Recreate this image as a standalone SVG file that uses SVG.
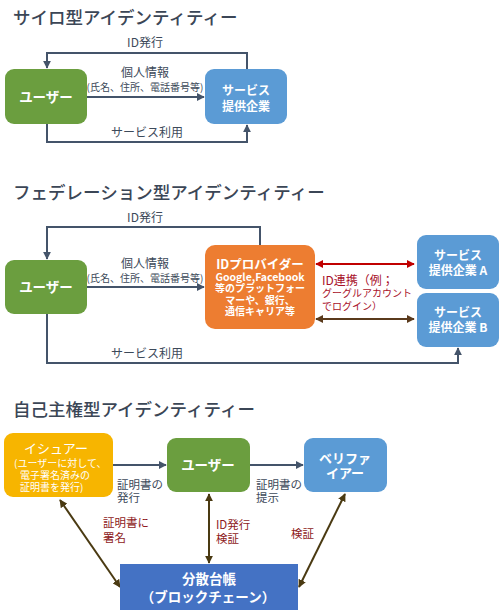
<svg xmlns="http://www.w3.org/2000/svg" width="500" height="612" viewBox="0 0 500 612">
<defs>
<style>
text{font-family:"Noto Sans CJK JP","Noto Sans",sans-serif}
.title{font-size:17.5px;font-weight:500;fill:#3b4656}
.lbl{font-size:12px;fill:#3d4a5a}
.lb2{font-size:11.5px;fill:#3d4a5a}
.sm{font-size:10px;fill:#3d4a5a}
.red{font-size:11.5px;fill:#8e1a22}
.bx{fill:#fff;font-weight:bold;text-anchor:middle}
.ln{fill:none;stroke:#44546a;stroke-width:2}
.c{text-anchor:middle}
</style>
<marker id="ah" viewBox="0 0 10 10" refX="9" refY="5" markerWidth="8" markerHeight="8" markerUnits="userSpaceOnUse" orient="auto"><path d="M0,0 L10,5 L0,10 z" fill="#44546a"/></marker>
<marker id="ahr" viewBox="0 0 10 10" refX="9" refY="5" markerWidth="8" markerHeight="8" markerUnits="userSpaceOnUse" orient="auto-start-reverse"><path d="M0,0 L10,5 L0,10 z" fill="#c00000"/></marker>
<marker id="ahb" viewBox="0 0 10 10" refX="9" refY="5" markerWidth="8" markerHeight="8" markerUnits="userSpaceOnUse" orient="auto-start-reverse"><path d="M0,0 L10,5 L0,10 z" fill="#5a3a1c"/></marker>
<marker id="aho" viewBox="0 0 10 10" refX="9" refY="5" markerWidth="8" markerHeight="8" markerUnits="userSpaceOnUse" orient="auto-start-reverse"><path d="M0,0 L10,5 L0,10 z" fill="#4a3a12"/></marker>
</defs>
<rect width="500" height="612" fill="#fff"/>

<text class="title" x="13" y="23.5">サイロ型アイデンティティー</text>
<text class="title" x="13" y="199">フェデレーション型アイデンティティー</text>
<text class="title" x="13" y="416">自己主権型アイデンティティー</text>

<g id="connectors">
<path class="ln" d="M247,70 V53 H47 V68" marker-end="url(#ah)"/>
<path class="ln" d="M87,97 H204" marker-end="url(#ah)"/>
<path class="ln" d="M47,124 V142 H247 V125" marker-end="url(#ah)"/>
<path class="ln" d="M260,245 V227 H47 V259" marker-end="url(#ah)"/>
<path class="ln" d="M87,287 H204" marker-end="url(#ah)"/>
<path class="ln" d="M47,314 V363 H458 V348" marker-end="url(#ah)"/>
<path d="M316,264 H414" fill="none" stroke="#c00000" stroke-width="2" marker-start="url(#ahr)" marker-end="url(#ahr)"/>
<path d="M316,319 H414" fill="none" stroke="#5a3a1c" stroke-width="2" marker-start="url(#ahb)" marker-end="url(#ahb)"/>
<path class="ln" d="M113,465 H166" marker-end="url(#ah)"/>
<path class="ln" d="M250,465 H303" marker-end="url(#ah)"/>
<path d="M60,500 L120,587" fill="none" stroke="#4a3a12" stroke-width="2" marker-start="url(#aho)" marker-end="url(#aho)"/>
<path d="M209,494 V563" fill="none" stroke="#4a3a12" stroke-width="2" marker-start="url(#aho)" marker-end="url(#aho)"/>
<path d="M345,494 L299,587" fill="none" stroke="#4a3a12" stroke-width="2" marker-start="url(#aho)" marker-end="url(#aho)"/>
</g>

<g id="labels">
<text class="lbl c" x="145" y="46.5">ID発行</text>
<text class="lbl c" x="145" y="77">個人情報</text>
<text class="sm c" x="145" y="90.5">(氏名、住所、電話番号等)</text>
<text class="lbl c" x="147" y="136.5">サービス利用</text>
<text class="lbl c" x="145" y="221.5">ID発行</text>
<text class="lbl c" x="145" y="268">個人情報</text>
<text class="sm c" x="145" y="281.5">(氏名、住所、電話番号等)</text>
<text class="lbl c" x="147" y="357.5">サービス利用</text>
<text x="322" y="284.5" style="font-size:12px;fill:#a8102a">ID連携（例；</text>
<text x="322" y="297" style="font-size:10px;fill:#a8102a">グーグルアカウント</text>
<text x="322" y="309.5" style="font-size:10px;fill:#a8102a">でログイン）</text>
<text class="lb2" x="117" y="489">証明書の</text>
<text class="lb2" x="117" y="502">発行</text>
<text class="lb2" x="256" y="489">証明書の</text>
<text class="lb2" x="256" y="502">提示</text>
<text class="red" x="103" y="527">証明書に</text>
<text class="red" x="103" y="542">署名</text>
<text class="red" x="216" y="529">ID発行</text>
<text class="red" x="216" y="543">検証</text>
<text class="red" x="291" y="537.5">検証</text>
</g>

<g id="silo-user">
<rect x="5" y="69" width="82" height="55" rx="9" fill="#6b9e3f"/>
<text class="bx" x="46" y="102" style="font-size:13.5px">ユーザー</text>
</g>
<g id="silo-service">
<rect x="205" y="69" width="82" height="55" rx="9" fill="#5b9bd5"/>
<text class="bx" x="246" y="94.5" style="font-size:12px">サービス</text>
<text class="bx" x="246" y="110.5" style="font-size:12px">提供企業</text>
</g>

<g id="fed-user">
<rect x="5" y="260" width="82" height="54" rx="9" fill="#6b9e3f"/>
<text class="bx" x="46" y="292" style="font-size:13.5px">ユーザー</text>
</g>
<g id="fed-idp">
<rect x="205" y="245" width="110" height="84" rx="10" fill="#ed7d31"/>
<text class="bx" x="260" y="268.5" style="font-size:12.5px">IDプロバイダー</text>
<text class="bx" x="260" y="280.5" style="font-size:10.5px">Google,Facebook</text>
<text class="bx" x="260" y="292" style="font-size:10px">等のプラットフォー</text>
<text class="bx" x="260" y="303.5" style="font-size:10px">マーや、銀行、</text>
<text class="bx" x="260" y="315" style="font-size:10px">通信キャリア等</text>
</g>
<g id="fed-service-a">
<rect x="417" y="235" width="82" height="54" rx="9" fill="#5b9bd5"/>
<text class="bx" x="458" y="259.5" style="font-size:12px">サービス</text>
<text class="bx" x="458" y="274.5" style="font-size:12px">提供企業 A</text>
</g>
<g id="fed-service-b">
<rect x="417" y="293" width="82" height="54" rx="9" fill="#5b9bd5"/>
<text class="bx" x="458" y="316.5" style="font-size:12px">サービス</text>
<text class="bx" x="458" y="331.5" style="font-size:12px">提供企業 B</text>
</g>

<g id="ssi-issuer">
<rect x="4" y="433" width="109" height="64" rx="9" fill="#f7b500"/>
<text x="56" y="453" style="font-size:13px;fill:#fff;text-anchor:middle">イシュアー</text>
<text x="14" y="467" style="font-size:10px;fill:#fff">(ユーザーに対して、</text>
<text x="20" y="479" style="font-size:10px;fill:#fff">電子署名済みの</text>
<text x="20" y="490.5" style="font-size:10px;fill:#fff">証明書を発行)</text>
</g>
<g id="ssi-user">
<rect x="167" y="438" width="83" height="54" rx="9" fill="#6b9e3f"/>
<text class="bx" x="208" y="470" style="font-size:13.5px">ユーザー</text>
</g>
<g id="ssi-verifier">
<rect x="304" y="438" width="83" height="54" rx="9" fill="#5b9bd5"/>
<text class="bx" x="345" y="463" style="font-size:13px">ベリファ</text>
<text class="bx" x="345" y="478" style="font-size:13px">イアー</text>
</g>
<g id="ssi-ledger">
<rect x="120" y="564" width="178" height="46" fill="#4472c4"/>
<text class="bx" x="209" y="584" style="font-size:13.5px">分散台帳</text>
<text class="bx" x="208" y="602" style="font-size:13.5px">（ブロックチェーン）</text>
</g>
</svg>
